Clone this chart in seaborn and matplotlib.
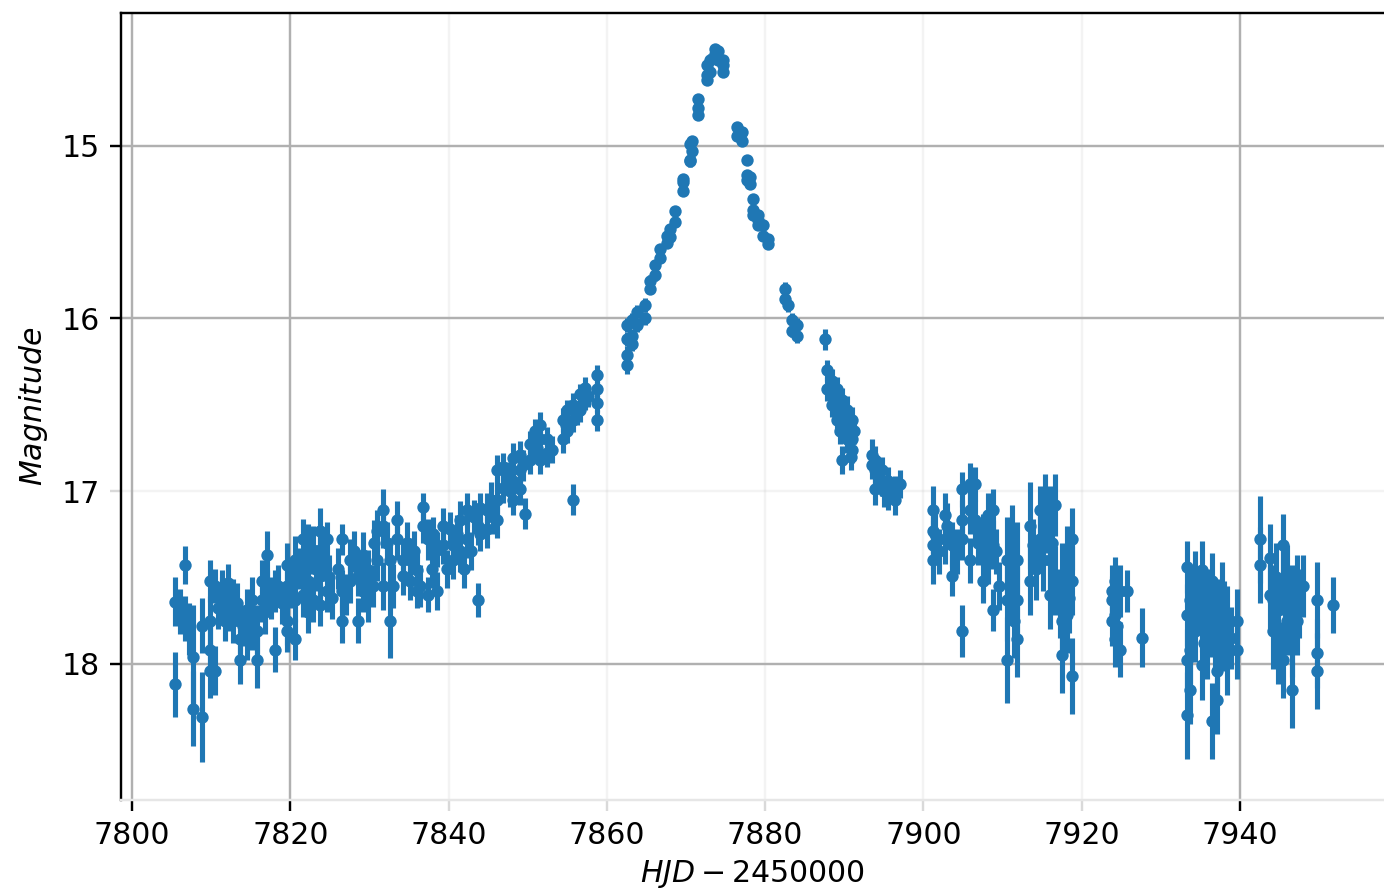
import matplotlib
matplotlib.use("Agg")
import numpy as np
import pandas as pd
import seaborn as sns
import matplotlib.pyplot as plt

# =========================
# DATA
# =========================
hjd = [
    # early baseline
    7805.4, 7805.4, 7806.7, 7806.7, 7807.7, 7807.7, 7808.8, 7808.8,
    7809.9, 7809.9, 7809.9, 7809.9, 7810.5, 7810.5, 7811.4, 7811.4,
    7812.1, 7812.1, 7812.8, 7812.8, 7813.7, 7813.7, 7813.7, 7814.5, 7814.5,
    7815.2, 7815.2, 7815.8, 7815.8, 7816.4, 7816.4, 7817.1, 7817.1,
    7818.1, 7818.1, 7818.5, 7819.6, 7819.6, 7819.6, 7819.6,
    7820.6, 7820.6, 7820.6, 7821.6, 7821.6, 7822.2, 7822.2, 7822.2,
    7822.9, 7822.9, 7823.8, 7823.8, 7823.8, 7823.8, 7824.6, 7824.6,
    7826.5, 7826.5, 7826.5, 7827.6, 7827.6, 7828.6, 7828.6, 7829.2, 7829.2,
    7829.8, 7829.8, 7831.0, 7831.0, 7831.7, 7831.7, 7831.7, 7832.6, 7832.6,
    7833.5, 7833.5, 7834.2, 7834.2, 7835.1, 7835.1, 7836.0, 7836.0,
    7836.8, 7836.8, 7837.4, 7837.4, 7838.5, 7838.5, 7839.3, 7839.3,
    7840.6, 7840.6, 7841.5, 7841.5, 7842.3, 7842.3, 7843.7, 7843.7,
    7844.0, 7844.0, 7844.9, 7844.9,
    # rise
    7846.1, 7846.1, 7846.1, 7846.9, 7846.9, 7848.1, 7848.1, 7848.1,
    7849.0, 7849.0, 7849.0, 7849.7, 7850.3, 7850.3, 7850.9, 7850.9,
    7851.6, 7851.6, 7851.6, 7852.4, 7852.4, 7853.1, 7854.5, 7854.5,
    7855.0, 7855.0, 7855.7, 7855.7, 7855.7, 7856.6, 7856.6, 7857.2, 7857.2,
    7858.8, 7858.8, 7858.8, 7858.8,
    7862.5, 7862.5, 7862.5, 7862.5, 7863.2, 7863.2, 7863.2, 7863.8, 7863.8,
    7864.8, 7864.8, 7865.5, 7865.5, 7866.1, 7866.1, 7866.7, 7866.7,
    7867.6, 7867.6, 7868.0, 7868.0, 7868.6, 7868.6, 7869.6, 7869.6, 7869.6,
    7870.5, 7870.5, 7870.5, 7870.8, 7870.8, 7871.5, 7871.5, 7871.5,
    7872.7, 7872.7, 7872.7, 7873.0, 7873.0, 7873.7, 7873.7, 7874.0, 7874.0,
    7874.7, 7874.7, 7874.7,
    # decline
    7876.4, 7876.4, 7877.1, 7877.1, 7877.7, 7877.7, 7877.7, 7878.1, 7878.1,
    7878.5, 7878.5, 7878.5, 7879.1, 7879.1, 7879.1, 7879.7, 7879.7,
    7880.4, 7880.4, 7882.5, 7882.5, 7882.9, 7883.4, 7883.4, 7884.0, 7884.0,
    7887.6, 7887.8, 7887.8, 7888.5, 7888.5, 7888.5, 7889.1, 7889.1, 7889.1,
    7889.7, 7889.7, 7889.7, 7890.3, 7890.3, 7890.3, 7891.0, 7891.0, 7891.0,
    7893.5, 7893.5, 7893.9, 7893.9, 7893.9, 7894.8, 7894.8, 7895.5, 7895.5,
    7896.4, 7896.4, 7897.0,
    # late baseline
    7901.2, 7901.2, 7901.2, 7901.2, 7901.5, 7902.7, 7902.7, 7903.6, 7903.6,
    7904.9, 7904.9, 7904.9, 7904.9, 7905.9, 7905.9, 7905.9, 7906.5, 7906.5,
    7907.5, 7907.5, 7908.2, 7908.2, 7908.8, 7908.8, 7908.8,
    7910.6, 7910.6, 7910.6, 7911.2, 7911.2, 7911.8, 7911.8, 7911.8,
    7913.5, 7913.5, 7913.9, 7914.7, 7914.7, 7915.4, 7915.4,
    7916.0, 7916.0, 7916.0, 7916.6, 7916.6, 7917.5, 7917.5, 7917.5,
    7918.1, 7918.1, 7918.8, 7918.8, 7918.8,
    7923.8, 7923.8, 7923.8, 7924.2, 7924.2, 7924.2, 7924.8, 7924.8, 7925.7,
    7927.6,
    7933.3, 7933.3, 7933.3, 7933.3, 7933.7, 7933.7, 7933.7, 7934.3, 7934.3,
    7935.2, 7935.2, 7935.2, 7935.8, 7935.8, 7936.5, 7936.5, 7936.5,
    7937.1, 7937.1, 7937.1, 7937.7, 7937.7, 7938.4, 7938.4, 7939.6, 7939.6,
    7942.5, 7942.5, 7943.8, 7943.8, 7944.2, 7944.2, 7944.8, 7944.8,
    7945.4, 7945.4, 7945.4, 7945.9, 7945.9, 7946.6, 7946.6, 7946.6,
    7947.2, 7947.2, 7948.0, 7949.7, 7949.7, 7949.7, 7951.8,
]

mag = [
    17.64, 18.12, 17.43, 17.74, 17.96, 18.26, 17.78, 18.31,
    17.52, 17.75, 17.92, 18.04, 17.55, 18.04, 17.58, 17.63,
    17.53, 17.69, 17.63, 17.75, 17.75, 17.86, 17.98, 17.69, 17.86,
    17.63, 17.78, 17.81, 17.98, 17.52, 17.63, 17.37, 17.58,
    17.58, 17.92, 17.55, 17.43, 17.55, 17.75, 17.81,
    17.40, 17.63, 17.86, 17.28, 17.60, 17.31, 17.52, 17.70,
    17.34, 17.63, 17.23, 17.34, 17.49, 17.66, 17.28, 17.58,
    17.28, 17.58, 17.75, 17.40, 17.52, 17.49, 17.75, 17.37, 17.58,
    17.46, 17.63, 17.23, 17.40, 17.11, 17.20, 17.55, 17.40, 17.75,
    17.17, 17.28, 17.40, 17.49, 17.40, 17.52, 17.46, 17.58,
    17.09, 17.20, 17.28, 17.60, 17.34, 17.58, 17.20, 17.31,
    17.31, 17.40, 17.17, 17.35, 17.11, 17.28, 17.20, 17.63,
    17.10, 17.25, 17.11, 17.22,
    16.88, 17.05, 17.17, 16.86, 16.98, 16.81, 16.94, 17.05,
    16.79, 16.88, 16.99, 17.13, 16.73, 16.82, 16.65, 16.73,
    16.62, 16.70, 16.82, 16.70, 16.78, 16.76, 16.59, 16.70,
    16.53, 16.65, 16.50, 16.59, 17.05, 16.44, 16.53, 16.40, 16.47,
    16.33, 16.41, 16.49, 16.59,
    16.04, 16.12, 16.21, 16.27, 16.01, 16.10, 16.15, 15.96, 16.04,
    15.92, 16.00, 15.78, 15.83, 15.69, 15.75, 15.60, 15.65,
    15.52, 15.56, 15.48, 15.53, 15.38, 15.44, 15.19, 15.21, 15.26,
    14.99, 15.08, 15.09, 14.97, 15.03, 14.73, 14.78, 14.82,
    14.53, 14.59, 14.62, 14.50, 14.57, 14.44, 14.47, 14.45, 14.50,
    14.50, 14.53, 14.57,
    14.89, 14.94, 14.92, 14.97, 15.08, 15.17, 15.20, 15.18, 15.22,
    15.31, 15.37, 15.40, 15.40, 15.43, 15.46, 15.46, 15.52,
    15.54, 15.57, 15.83, 15.89, 15.92, 16.01, 16.07, 16.04, 16.10,
    16.12, 16.30, 16.41, 16.36, 16.44, 16.50, 16.41, 16.53, 16.59,
    16.47, 16.59, 16.82, 16.53, 16.62, 16.70, 16.59, 16.70, 16.76,
    16.79, 16.85, 16.82, 16.88, 16.99, 16.88, 16.94, 16.94, 17.02,
    16.99, 17.05, 16.96,
    17.11, 17.23, 17.31, 17.40, 17.25, 17.14, 17.28, 17.31, 17.49,
    16.99, 17.17, 17.28, 17.81, 16.96, 17.11, 17.40, 16.96, 17.17,
    17.28, 17.52, 17.14, 17.40, 17.11, 17.31, 17.69,
    17.40, 17.63, 17.98, 17.28, 17.52, 17.40, 17.63, 17.86,
    17.20, 17.52, 17.31, 17.11, 17.28, 17.05, 17.20,
    17.17, 17.40, 17.60, 17.08, 17.52, 17.52, 17.75, 17.95,
    17.40, 17.72, 17.28, 17.52, 18.07,
    17.58, 17.63, 17.75, 17.52, 17.72, 17.86, 17.58, 17.92, 17.58,
    17.85,
    17.44, 17.72, 17.98, 18.30, 17.63, 17.92, 18.15, 17.52, 17.81,
    17.46, 17.75, 18.01, 17.63, 17.90, 17.52, 17.78, 18.33,
    17.69, 18.04, 18.21, 17.58, 17.86, 17.75, 17.98, 17.75, 17.92,
    17.28, 17.43, 17.39, 17.60, 17.63, 17.81, 17.69, 17.92,
    17.31, 17.52, 17.98, 17.49, 17.75, 17.63, 17.86, 18.15,
    17.55, 17.75, 17.55, 17.63, 17.94, 18.04, 17.66,
]

mag_err = [
    0.14, 0.19, 0.11, 0.13, 0.30, 0.22, 0.16, 0.26,
    0.12, 0.14, 0.15, 0.16, 0.10, 0.14, 0.12, 0.13,
    0.11, 0.12, 0.12, 0.13, 0.11, 0.13, 0.14, 0.12, 0.12,
    0.13, 0.14, 0.15, 0.16, 0.12, 0.13, 0.14, 0.12,
    0.12, 0.13, 0.12, 0.13, 0.12, 0.14, 0.12,
    0.14, 0.13, 0.12, 0.12, 0.13, 0.12, 0.11, 0.12,
    0.14, 0.13, 0.13, 0.11, 0.13, 0.12, 0.10, 0.12,
    0.09, 0.12, 0.13, 0.12, 0.13, 0.12, 0.13, 0.13, 0.12,
    0.12, 0.13, 0.12, 0.12, 0.12, 0.13, 0.14, 0.13, 0.22,
    0.11, 0.12, 0.12, 0.11, 0.13, 0.11, 0.12, 0.10,
    0.08, 0.10, 0.12, 0.10, 0.10, 0.11, 0.10, 0.11,
    0.10, 0.11, 0.11, 0.12, 0.10, 0.11, 0.11, 0.10,
    0.09, 0.10, 0.10, 0.11,
    0.09, 0.10, 0.10, 0.08, 0.09, 0.09, 0.08, 0.09,
    0.08, 0.09, 0.09, 0.09, 0.08, 0.08, 0.07, 0.08,
    0.08, 0.07, 0.08, 0.07, 0.08, 0.08, 0.07, 0.08,
    0.06, 0.07, 0.07, 0.07, 0.09, 0.06, 0.07, 0.06, 0.06,
    0.06, 0.05, 0.05, 0.06,
    0.04, 0.04, 0.05, 0.05, 0.04, 0.04, 0.04, 0.04, 0.04,
    0.04, 0.04, 0.03, 0.03, 0.03, 0.03, 0.03, 0.03,
    0.03, 0.03, 0.03, 0.03, 0.03, 0.03, 0.03, 0.03, 0.03,
    0.03, 0.03, 0.03, 0.03, 0.03, 0.03, 0.03, 0.03,
    0.03, 0.03, 0.03, 0.03, 0.03, 0.02, 0.02, 0.02, 0.02,
    0.02, 0.02, 0.02,
    0.03, 0.03, 0.03, 0.03, 0.03, 0.03, 0.03, 0.03, 0.03,
    0.03, 0.03, 0.03, 0.03, 0.03, 0.03, 0.03, 0.03,
    0.03, 0.03, 0.04, 0.04, 0.04, 0.04, 0.04, 0.04, 0.04,
    0.06, 0.06, 0.07, 0.07, 0.07, 0.07, 0.07, 0.07, 0.08,
    0.07, 0.07, 0.08, 0.08, 0.08, 0.08, 0.08, 0.08, 0.08,
    0.09, 0.08, 0.08, 0.09, 0.09, 0.08, 0.09, 0.08, 0.09,
    0.08, 0.09, 0.08,
    0.14, 0.13, 0.14, 0.14, 0.12, 0.13, 0.14, 0.13, 0.12,
    0.10, 0.12, 0.12, 0.15, 0.12, 0.14, 0.13, 0.10, 0.12,
    0.15, 0.13, 0.13, 0.14, 0.12, 0.14, 0.12,
    0.25, 0.24, 0.25, 0.20, 0.22, 0.22, 0.20, 0.22,
    0.25, 0.20, 0.15, 0.14, 0.16, 0.15, 0.16,
    0.20, 0.22, 0.20, 0.18, 0.20, 0.22, 0.20, 0.22,
    0.20, 0.22, 0.18, 0.20, 0.22,
    0.15, 0.14, 0.15, 0.14, 0.15, 0.16, 0.15, 0.16, 0.12,
    0.17,
    0.15, 0.18, 0.18, 0.25, 0.18, 0.20, 0.20, 0.17, 0.18,
    0.17, 0.18, 0.20, 0.18, 0.19, 0.16, 0.18, 0.22,
    0.18, 0.20, 0.20, 0.17, 0.18, 0.20, 0.20, 0.18, 0.17,
    0.25, 0.22, 0.20, 0.22, 0.20, 0.22, 0.20, 0.20,
    0.18, 0.20, 0.22, 0.18, 0.20, 0.20, 0.22, 0.22,
    0.18, 0.20, 0.18, 0.22, 0.20, 0.22, 0.16,
]

# extra points filling the dense clumps
hjd_extra = [
    7806.0, 7807.2, 7810.9, 7811.7, 7813.2, 7814.0, 7816.8, 7817.6, 7819.0,
    7820.2, 7821.0, 7821.9, 7823.3, 7824.2, 7824.9, 7825.3, 7826.0, 7827.0,
    7828.0, 7830.4, 7830.6, 7832.2, 7833.0, 7834.8, 7835.6, 7836.4, 7837.9,
    7838.0, 7839.8, 7840.2, 7841.0, 7841.9, 7842.8, 7843.2, 7845.4, 7845.6,
    7847.5, 7847.8, 7849.4, 7851.2, 7854.8, 7856.2, 7857.6,
    7888.9, 7889.4, 7890.0, 7890.6, 7890.8, 7891.2, 7894.3, 7895.0,
    7902.0, 7903.0, 7904.3, 7906.9, 7907.9, 7909.2, 7909.5, 7911.5, 7914.2,
    7915.1, 7916.3, 7917.2, 7918.4, 7924.5, 7934.0, 7934.8, 7935.5, 7936.2,
    7936.9, 7938.0, 7938.9, 7944.5, 7945.7, 7946.3, 7947.5,
]
mag_extra = [
    17.70, 17.80, 17.68, 17.75, 17.65, 17.78, 17.70, 17.62, 17.65,
    17.55, 17.45, 17.42, 17.45, 17.40, 17.50, 17.62, 17.45, 17.60,
    17.35, 17.55, 17.30, 17.30, 17.55, 17.30, 17.35, 17.55, 17.45,
    17.25, 17.45, 17.22, 17.25, 17.45, 17.35, 17.15, 17.05, 17.15,
    16.92, 17.00, 16.85, 16.75, 16.62, 16.55, 16.45,
    16.47, 16.65, 16.56, 16.65, 16.80, 16.65, 16.90, 17.00,
    17.35, 17.20, 17.35, 17.30, 17.40, 17.35, 17.55, 17.75, 17.45,
    17.40, 17.30, 17.65, 17.62, 17.78, 17.70, 17.62, 17.88, 17.70,
    17.85, 17.70, 17.85, 17.50, 17.62, 17.70, 17.65,
]
err_extra = [
    0.13, 0.15, 0.12, 0.12, 0.12, 0.12, 0.13, 0.12, 0.12,
    0.13, 0.12, 0.12, 0.13, 0.12, 0.13, 0.12, 0.12, 0.12,
    0.12, 0.12, 0.13, 0.12, 0.13, 0.12, 0.12, 0.12, 0.11,
    0.10, 0.11, 0.10, 0.11, 0.11, 0.11, 0.10, 0.10, 0.10,
    0.09, 0.09, 0.09, 0.08, 0.07, 0.07, 0.06,
    0.07, 0.08, 0.08, 0.08, 0.08, 0.08, 0.09, 0.09,
    0.13, 0.13, 0.13, 0.13, 0.14, 0.13, 0.14, 0.22, 0.18,
    0.18, 0.18, 0.20, 0.20, 0.15, 0.18, 0.18, 0.18, 0.18,
    0.18, 0.18, 0.18, 0.20, 0.20, 0.20, 0.20,
]

x_ticks = [7800, 7820, 7840, 7860, 7880, 7900, 7920, 7940]
y_ticks = [15, 16, 17, 18]
faint_x = [7840, 7860, 7880, 7900, 7920]
faint_y = [17]

df = pd.DataFrame({"hjd": hjd + hjd_extra,
                   "mag": mag + mag_extra,
                   "err": mag_err + err_extra})

# =========================
# PLOT
# =========================
fig = plt.figure(figsize=(6.4, 889 / 216.25), dpi=216.25)
ax = fig.add_axes([121 / 1384, 1 - 800 / 889, 1 - 121 / 1384, (800 - 13) / 889])

ax.errorbar(df["hjd"], df["mag"], yerr=df["err"], fmt="none",
            ecolor="#1f77b4", elinewidth=1.7, zorder=2)
sns.scatterplot(data=df, x="hjd", y="mag", color="#1f77b4", s=17,
                linewidth=0, ax=ax, zorder=3)

ax.set_xlim(7798.6, 7958.2)
ax.set_ylim(18.79, 14.23)
ax.set_xticks(x_ticks)
ax.set_yticks(y_ticks)
ax.grid(True)

# some grid lines are washed out in the original picture
for t, tick in zip(x_ticks, ax.xaxis.get_major_ticks()):
    if t in faint_x:
        tick.gridline.set_alpha(0.15)
        tick.tick1line.set_alpha(0.15)
for t, tick in zip(y_ticks, ax.yaxis.get_major_ticks()):
    if t in faint_y:
        tick.gridline.set_alpha(0.15)
        tick.tick1line.set_alpha(0.15)

ax.spines["right"].set_visible(False)
ax.spines["bottom"].set_color("#e6e6e6")

ax.set_xlabel(r"$HJD - 2450000$", labelpad=2.5)
ax.set_ylabel(r"$Magnitude$")

fig.savefig("out.png", dpi=216.25)
